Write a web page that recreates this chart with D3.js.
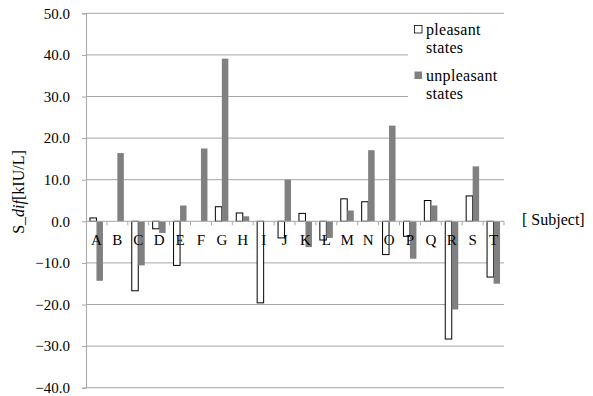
<!DOCTYPE html>
<html>
  <head>
    <meta charset="utf-8">
    <script src="https://cdn.jsdelivr.net/npm/d3@7"></script>
    <style>
      body { margin: 0; background: #fff; }
      svg text { font-family: "Liberation Serif", "Times New Roman", serif; fill: #000; }
    </style>
  </head>
  <body>
    <script type="text/javascript">
      var w = 593;
      var h = 396;
      var serif = "'Liberation Serif', 'Times New Roman', serif";

      // Dados
      var subjects = ["A","B","C","D","E","F","G","H","I","J","K","L","M","N","O","P","Q","R","S","T"];
      var pleasant = [0.8, 0.0, -16.7, -1.8, -10.6, 0.0, 3.5, 2.0, -19.6, -4.0, 1.9, -4.5, 5.4, 4.7, -8.0, -3.6, 5.0, -28.3, 6.1, -13.4];
      var unpleasant = [-14.3, 16.4, -10.6, -2.8, 3.8, 17.5, 39.1, 1.2, 0.0, 10.0, -6.2, -4.0, 2.6, 17.1, 23.0, -9.0, 3.8, -21.2, 13.2, -15.0];
      var seriesNames = ["pleasant states", "unpleasant states"];
      var yTicks = [50, 40, 30, 20, 10, 0, -10, -20, -30, -40];

      var plotL = 86, plotR = 504, plotT = 13.3, plotB = 387.7;

      var svg = d3.select("body")
                  .append("svg")
                    .attr("width", w)
                    .attr("height", h)
                    .style("font-family", serif);

      var x = d3.scaleBand().domain(subjects).range([plotL, plotR]).padding(0);
      var x1 = d3.scaleBand().domain(seriesNames).range([0, x.bandwidth()])
                 .paddingInner(0).paddingOuter(0.61);
      var y = d3.scaleLinear().domain([-40, 50]).range([plotB, plotT]);

      // Linhas de grade
      svg.append("g")
         .selectAll("line")
         .data(yTicks.filter(function(d){ return d !== 0; }))
         .enter()
         .append("line")
           .attr("x1", plotL)
           .attr("x2", plotR)
           .attr("y1", function(d){ return y(d); })
           .attr("y2", function(d){ return y(d); })
           .attr("stroke", "#a6a6a6")
           .attr("stroke-width", 1);

      // Eixo Y
      var yAxis = svg.append("g")
         .attr("transform", "translate(" + plotL + ",0)")
         .call(d3.axisLeft(y).tickValues(yTicks).tickSize(4).tickPadding(12)
                 .tickFormat(d3.format(".1f")));
      yAxis.attr("font-family", null).attr("font-size", null);
      yAxis.select(".domain").attr("stroke", "#a6a6a6");
      yAxis.selectAll(".tick line").attr("stroke", "#a6a6a6");
      yAxis.selectAll(".tick text")
           .style("font-family", serif)
           .style("font-size", "15px")
           .attr("fill", "#000");

      // Legenda (fundo branco cobre a grade)
      var legend = svg.append("g");
      legend.append("rect")
            .attr("x", 408).attr("y", 16)
            .attr("width", plotR - 408).attr("height", 94)
            .attr("fill", "#fff");

      // Barras
      var rows = subjects.map(function(s, i){
        return [{s: s, k: seriesNames[0], v: pleasant[i]},
                {s: s, k: seriesNames[1], v: unpleasant[i]}];
      });

      svg.append("g")
         .selectAll("g")
         .data(rows)
         .enter()
         .append("g")
           .attr("transform", function(d){ return "translate(" + x(d[0].s) + ",0)"; })
         .selectAll("rect")
         .data(function(d){ return d; })
         .enter()
         .append("rect")
           .attr("x", function(d){ return x1(d.k); })
           .attr("y", function(d){ return y(Math.max(0, d.v)); })
           .attr("width", x1.bandwidth())
           .attr("height", function(d){ return Math.abs(y(d.v) - y(0)); })
           .attr("fill", function(d){ return d.k === seriesNames[0] ? "#fff" : "#808080"; })
           .attr("stroke", function(d){ return d.k === seriesNames[0] ? "#000" : "none"; })
           .attr("stroke-width", 1);

      // Eixo X na linha do zero
      var xAxis = svg.append("g")
         .attr("transform", "translate(0," + y(0) + ")");
      xAxis.append("line")
           .attr("x1", plotL).attr("x2", plotR)
           .attr("stroke", "#a6a6a6");
      xAxis.selectAll(".xt")
           .data(subjects)
           .enter()
           .append("line")
             .attr("class", "xt")
             .attr("x1", function(d){ return x(d) + x.bandwidth(); })
             .attr("x2", function(d){ return x(d) + x.bandwidth(); })
             .attr("y1", 0).attr("y2", 4)
             .attr("stroke", "#a6a6a6");
      xAxis.selectAll(".xl")
           .data(subjects)
           .enter()
           .append("text")
             .attr("class", "xl")
             .attr("x", function(d){ return x(d) + x.bandwidth() / 2; })
             .attr("y", 24)
             .attr("text-anchor", "middle")
             .style("font-size", "15px")
             .text(function(d){ return d; });

      // Itens da legenda
      var legY = [30, 76];
      seriesNames.forEach(function(name, i){
        var parts = name.split(" ");
        legend.append("rect")
              .attr("x", 414.5).attr("y", legY[i] - 4.5)
              .attr("width", 7.5).attr("height", 7.5)
              .attr("fill", i === 0 ? "#fff" : "#808080")
              .attr("stroke", i === 0 ? "#000" : "none")
              .attr("stroke-width", 0.8);
        var t = legend.append("text")
              .attr("x", 426).attr("y", legY[i] + 5)
              .style("font-size", "16px")
              .style("letter-spacing", "0.3px");
        t.append("tspan").text(parts[0]);
        t.append("tspan").attr("x", 426).attr("dy", 18).text(parts[1]);
      });

      // Titulo do eixo X
      svg.append("text")
         .attr("x", 522).attr("y", 225)
         .style("font-size", "16px")
         .text("[ Subject]");

      // Titulo do eixo Y
      var yt = svg.append("text")
         .attr("transform", "translate(24,192) rotate(-90)")
         .attr("text-anchor", "middle")
         .style("font-size", "16px");
      yt.append("tspan").text("S_");
      yt.append("tspan").attr("font-style", "italic").text("dif");
      yt.append("tspan").text("[kIU/L]");
    </script>
  </body>
</html>
